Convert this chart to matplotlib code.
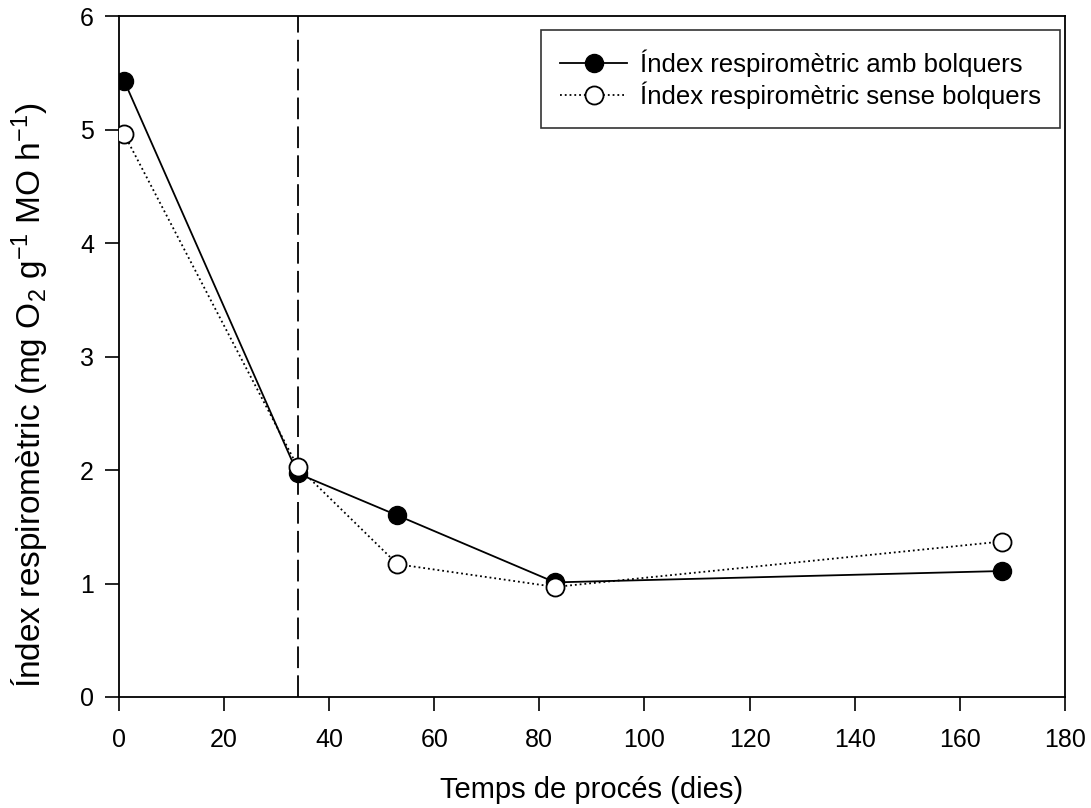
import matplotlib.pyplot as plt

plt.rcParams['font.family'] = ['Liberation Sans', 'DejaVu Sans']
plt.rcParams['mathtext.fontset'] = 'custom'
plt.rcParams['mathtext.rm'] = 'Liberation Sans'
plt.rcParams['mathtext.it'] = 'Liberation Sans:italic'
plt.rcParams['mathtext.default'] = 'regular'

# Dies de procés i índex respiromètric (mg O2 g-1 MO h-1)
dies = [1, 34, 53, 83, 168]
ir_amb = [5.43, 1.97, 1.60, 1.01, 1.11]
ir_sense = [4.96, 2.03, 1.17, 0.97, 1.37]
dia_tall = 34

fig = plt.figure(figsize=(10.91, 8.08), dpi=100)
ax = fig.add_axes([0.109, 0.1374, 0.867, 0.8426])

ax.plot(dies, ir_amb, '-', color='black', lw=1.3, marker='o', ms=13,
        mfc='black', mec='black', label='Índex respiromètric amb bolquers', zorder=3)
ax.plot(dies, ir_sense, ':', color='black', lw=1.3, marker='o', ms=13,
        mfc='white', mec='black', mew=1.3,
        label='Índex respiromètric sense bolquers', zorder=4)
ax.axvline(dia_tall, color='black', lw=1.3, ls=(0, (12, 4)), zorder=2)

ax.set_xlim(0, 180)
ax.set_ylim(0, 6)
ax.set_xticks(range(0, 181, 20))
ax.set_yticks(range(0, 7))
ax.tick_params(direction='out', length=10, width=1.2, labelsize=18)
ax.tick_params(axis='x', pad=12)
ax.tick_params(axis='y', pad=8)
for s in ax.spines.values():
    s.set_linewidth(1.3)

ax.set_xlabel('Temps de procés (dies)', fontsize=21, va='center')
ax.xaxis.set_label_coords(0.5, -0.137)
ax.set_ylabel('Índex respiromètric (mg O$_2$ g$^{-1}$ MO h$^{-1}$)',
              fontsize=24, va='center')
ax.yaxis.set_label_coords(-0.094, 0.443)

leg = ax.legend(loc='upper right', bbox_to_anchor=(0.995, 0.979), fontsize=18.5,
                frameon=True, fancybox=False, edgecolor='black',
                borderpad=0.75, handlelength=2.6, handletextpad=0.5,
                labelspacing=0.15, borderaxespad=0.0)
leg.get_frame().set_linewidth(1.2)

fig.savefig('out.png', dpi=100)
